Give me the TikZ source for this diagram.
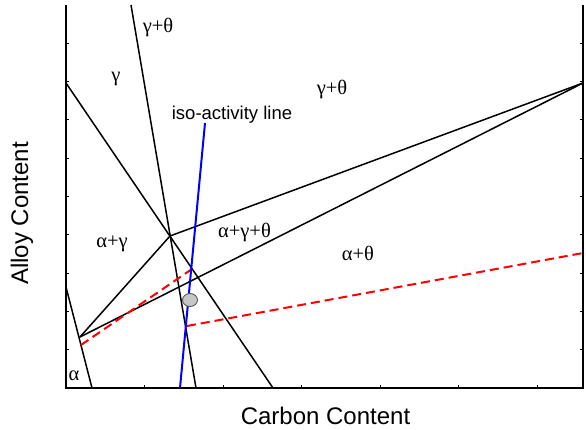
\documentclass[tikz,border=0pt]{standalone}
\usepackage{fontspec}
\setmainfont{Liberation Serif}
\setsansfont{Liberation Sans}
\usepackage{xcolor}
\usepackage{tikz}
\usetikzlibrary{positioning,shapes.geometric}

\begin{document}
\begin{tikzpicture}[x=1pt, y=-1pt,
  bnd/.style={line width=1.5pt, black},
  ax/.style={line width=1.5pt, black},
  tck/.style={line width=0.8pt, black},
  iso/.style={line width=2pt, blue},
  tie/.style={line width=2pt, red, dash pattern=on 9pt off 5pt},
  phase/.style={font=\fontsize{20.5}{24}\selectfont, inner sep=0pt, anchor=base},
  axlab/.style={font=\sffamily\fontsize{24}{28}\selectfont, inner sep=0pt, anchor=base}]
  \useasboundingbox (0,0) rectangle (586,430);
  % axes
  \coordinate (ltop) at (66,5);
  \coordinate (orig) at (66,388);
  \coordinate (rbot) at (583,388);
  \coordinate (rtop) at (583,5);
  \draw[ax] (ltop) -- (orig) -- (rbot) -- (rtop);
  \foreach \k in {1,...,9} {\draw[tck] (66,388-38.3*\k) -- ++(3,0);
    \draw[tck] (583,388-38.3*\k) -- ++(-3,0);}
  \foreach \k in {1,...,6} {\draw[tck] (66+78.5*\k,388) -- ++(0,-3);}
  % phase boundaries
  \coordinate (gtop) at (131,5);
  \coordinate (gbot) at (196,388);
  \coordinate (ltl) at (66,83);
  \coordinate (lbr) at (273,388);
  \coordinate (tpa) at (170,236);
  \coordinate (tpb) at (80,337);
  \coordinate (cem) at (583,83);
  \coordinate (atop) at (66,287);
  \coordinate (abot) at (92,388);
  \draw[bnd] (gtop) -- (gbot);
  \draw[bnd] (ltl) -- (lbr);
  \draw[bnd] (tpa) -- (cem);
  \draw[bnd] (tpb) -- (cem);
  \draw[bnd] (tpb) -- (tpa);
  \draw[bnd] (atop) -- (abot);
  % tie lines
  \coordinate (tla) at (81,345);
  \coordinate (tlb) at (192,269);
  \coordinate (tra) at (187,326);
  \coordinate (trb) at (583,253);
  \draw[tie] (tla) -- (tlb);
  \draw[tie] (tra) -- (trb);
  % iso-activity line
  \coordinate (ibot) at (180,388);
  \coordinate (itop) at (205,123);
  \draw[iso] (ibot) -- (itop);
  \node[ellipse, draw=black!70, line width=0.8pt, fill=gray!45, minimum width=15pt, minimum height=13pt, inner sep=0pt] (alloy) at (190,300) {};
  % labels
  \node[phase] (gtha) at (158,33) {γ+θ};
  \node[phase] (gam) at (116,82) {γ};
  \node[phase] (gthb) at (332,95) {γ+θ};
  \node[phase] (ag) at (112,248) {α+γ};
  \node[phase] (agt) at (244.5,238) {α+γ+θ};
  \node[phase] (at) at (358,261) {α+θ};
  \node[phase] (alp) at (74,380) {α};
  \node[font=\sffamily\fontsize{18.5}{22}\selectfont, inner sep=0pt, anchor=base] (isol) at (232,120) {iso-activity line};
  \node[axlab] (xlab) at (325.5,424) {Carbon Content};
  \node[axlab, rotate=90] (ylab) at (28,213.5) {Alloy Content};
\end{tikzpicture}
\end{document}
